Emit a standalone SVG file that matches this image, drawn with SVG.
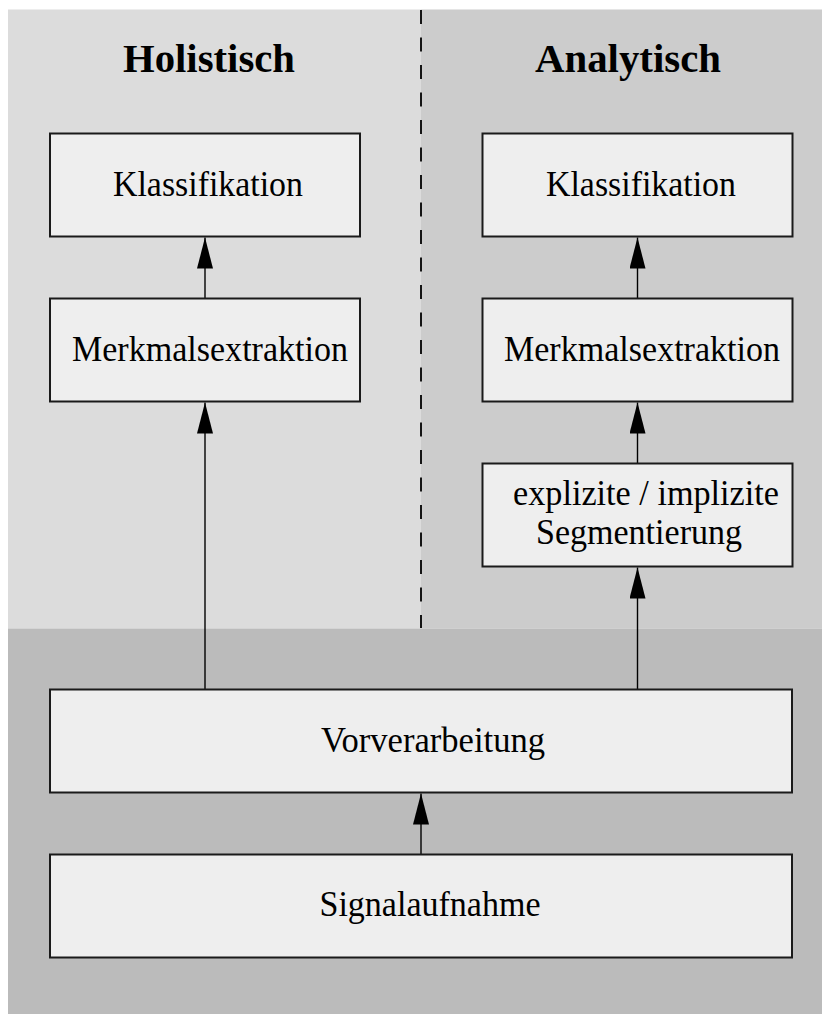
<svg xmlns="http://www.w3.org/2000/svg" width="822" height="1014" viewBox="0 0 822 1014">
  <style>
    .box { fill: #eeeeee; stroke: #1a1a1a; stroke-width: 2; }
    .lbl { font-family: "Liberation Serif", "Times New Roman", serif; font-size: 36px; fill: #000; text-anchor: middle; }
    .title { font-family: "Liberation Serif", "Times New Roman", serif; font-size: 41px; font-weight: bold; fill: #000; text-anchor: middle; }
    .edge { stroke: #000; stroke-width: 1.4; fill: none; marker-end: url(#arrow); }
  </style>
  <defs>
    <marker id="arrow" markerUnits="userSpaceOnUse" markerWidth="32" markerHeight="16" viewBox="0 0 32 16" refX="31" refY="8" orient="auto">
      <path d="M0,0 L31,8 L0,16 Z" fill="#000"/>
    </marker>
  </defs>

  <!-- background regions -->
  <rect width="822" height="1014" fill="#ffffff"/>
  <rect id="panel-holistic" x="8" y="9.5" width="413" height="619" fill="#dcdcdc"/>
  <rect id="panel-analytic" x="421" y="9.5" width="401" height="619" fill="#cccccc"/>
  <rect id="panel-common" x="8" y="628.5" width="814" height="386" fill="#bbbbbb"/>
  <line id="divider" x1="421" y1="10" x2="421" y2="628" stroke="#000" stroke-width="1.8" stroke-dasharray="14 13.5"/>

  <text class="title" x="209" y="72" textLength="172" lengthAdjust="spacingAndGlyphs">Holistisch</text>
  <text class="title" x="628" y="72" textLength="186" lengthAdjust="spacingAndGlyphs">Analytisch</text>

  <!-- connectors -->
  <g id="connectors">
    <line class="edge" x1="205" y1="298" x2="205" y2="237.5"/>
    <line class="edge" x1="205" y1="689" x2="205" y2="402.5"/>
    <line class="edge" x1="637.5" y1="298" x2="637.5" y2="237.5"/>
    <line class="edge" x1="637.5" y1="463" x2="637.5" y2="402.5"/>
    <line class="edge" x1="637.5" y1="689" x2="637.5" y2="567.5"/>
    <line class="edge" x1="421" y1="854" x2="421" y2="793.5"/>
  </g>

  <!-- holistic column -->
  <g id="h-klassifikation">
    <rect class="box" x="50" y="133.5" width="310" height="103"/>
    <text class="lbl" x="208" y="196" textLength="190" lengthAdjust="spacingAndGlyphs">Klassifikation</text>
  </g>
  <g id="h-merkmalsextraktion">
    <rect class="box" x="50" y="298.5" width="310" height="103"/>
    <text class="lbl" x="210" y="361" textLength="276" lengthAdjust="spacingAndGlyphs">Merkmalsextraktion</text>
  </g>

  <!-- analytic column -->
  <g id="a-klassifikation">
    <rect class="box" x="482.5" y="133.5" width="310" height="103"/>
    <text class="lbl" x="641" y="196" textLength="190" lengthAdjust="spacingAndGlyphs">Klassifikation</text>
  </g>
  <g id="a-merkmalsextraktion">
    <rect class="box" x="482.5" y="298.5" width="310" height="103"/>
    <text class="lbl" x="642" y="361" textLength="276" lengthAdjust="spacingAndGlyphs">Merkmalsextraktion</text>
  </g>
  <g id="a-segmentierung">
    <rect class="box" x="482.5" y="463.5" width="310" height="103"/>
    <text class="lbl" x="646" y="505" textLength="266" lengthAdjust="spacingAndGlyphs">explizite / implizite</text>
    <text class="lbl" x="639" y="544" textLength="206" lengthAdjust="spacingAndGlyphs">Segmentierung</text>
  </g>

  <!-- shared stages -->
  <g id="vorverarbeitung">
    <rect class="box" x="50" y="689.5" width="742" height="103"/>
    <text class="lbl" x="433" y="752" textLength="224" lengthAdjust="spacingAndGlyphs">Vorverarbeitung</text>
  </g>
  <g id="signalaufnahme">
    <rect class="box" x="50" y="854.5" width="742" height="103"/>
    <text class="lbl" x="430" y="916" textLength="221" lengthAdjust="spacingAndGlyphs">Signalaufnahme</text>
  </g>
</svg>
